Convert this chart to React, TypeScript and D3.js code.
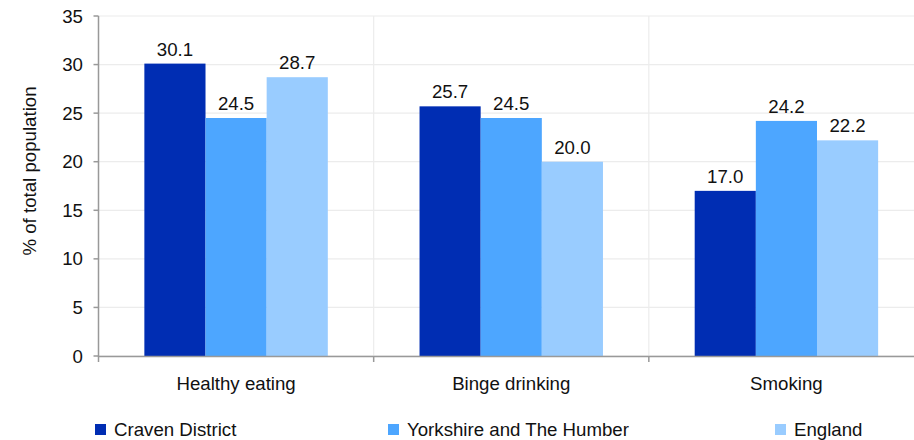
import React from "react";
import * as d3 from "d3";

const categories = ["Healthy eating", "Binge drinking", "Smoking"];
const seriesNames = ["Craven District", "Yorkshire and The Humber", "England"];
const craven = [30.1, 25.7, 17.0];
const yorkshire = [24.5, 24.5, 24.2];
const england = [28.7, 20.0, 22.2];
const yTicks = [0, 5, 10, 15, 20, 25, 30, 35];
const colors = ["#002db3", "#4da6ff", "#99ccff"];

export default function App() {
  const W = 914, H = 440;
  const left = 98.5, right = 924, top = 16, bottom = 356;
  const x = d3.scaleBand<string>().domain(categories).range([left, right]).paddingInner(0).paddingOuter(0);
  const inner = d3.scaleBand<string>().domain(seriesNames).range([0, x.bandwidth()]).paddingOuter(0.75).paddingInner(0);
  const y = d3.scaleLinear().domain([0, 35]).range([bottom, top]);
  const series = [craven, yorkshire, england];
  const font = "'Liberation Sans', Arial, sans-serif";
  const fs = 18.67;
  const legendX = [95, 388, 775];

  return (
    <svg width={W} height={H} style={{ position: "absolute", left: 0, top: 0 }} fontFamily={font}>
      <rect width={W} height={H} fill="#fff" />
      {yTicks.map((t) => (
        <line key={"g" + t} x1={left} x2={right} y1={y(t)} y2={y(t)} stroke="#ececec" strokeWidth={1.2} />
      ))}
      {categories.map((c, i) =>
        i > 0 ? (
          <line key={"v" + c} x1={x(c)!} x2={x(c)!} y1={top} y2={bottom} stroke="#ececec" strokeWidth={1.2} />
        ) : null
      )}
      {series.map((vals, si) =>
        categories.map((c, ci) => (
          <rect
            key={si + "-" + ci}
            x={x(c)! + inner(seriesNames[si])!}
            y={y(vals[ci])}
            width={inner.bandwidth()}
            height={bottom - y(vals[ci])}
            fill={colors[si]}
          />
        ))
      )}
      {series.map((vals, si) =>
        categories.map((c, ci) => (
          <text
            key={"l" + si + "-" + ci}
            x={x(c)! + inner(seriesNames[si])! + inner.bandwidth() / 2}
            y={y(vals[ci]) - 8}
            textAnchor="middle"
            fontSize={fs}
            fill="#111"
          >
            {vals[ci].toFixed(1)}
          </text>
        ))
      )}
      <line x1={left} x2={left} y1={top} y2={bottom + 0.5} stroke="#999" strokeWidth={1.5} />
      <line x1={left} x2={right} y1={bottom + 0.5} y2={bottom + 0.5} stroke="#999" strokeWidth={1.5} />
      {yTicks.map((t) => (
        <g key={"t" + t}>
          <line x1={left - 5} x2={left} y1={y(t)} y2={y(t)} stroke="#999" strokeWidth={1.5} />
          <text x={83} y={y(t)} dy="0.35em" textAnchor="end" fontSize={fs} fill="#111">
            {t}
          </text>
        </g>
      ))}
      {categories.map((c) => (
        <line key={"bt" + c} x1={x(c)!} x2={x(c)!} y1={bottom} y2={bottom + 6} stroke="#999" strokeWidth={1.5} />
      ))}
      {categories.map((c) => (
        <text key={"cl" + c} x={x(c)! + x.bandwidth() / 2} y={383} dy="0.35em" textAnchor="middle" fontSize={fs} fill="#111">
          {c}
        </text>
      ))}
      <text transform={`translate(29, 171) rotate(-90)`} textAnchor="middle" dy="0.35em" fontSize={fs} fill="#111">
        % of total population
      </text>
      {seriesNames.map((s, i) => (
        <g key={"lg" + s}>
          <rect x={legendX[i]} y={424} width={11} height={11} fill={colors[i]} />
          <text x={legendX[i] + 19} y={429.5} dy="0.35em" fontSize={fs} fill="#111">
            {s}
          </text>
        </g>
      ))}
    </svg>
  );
}
